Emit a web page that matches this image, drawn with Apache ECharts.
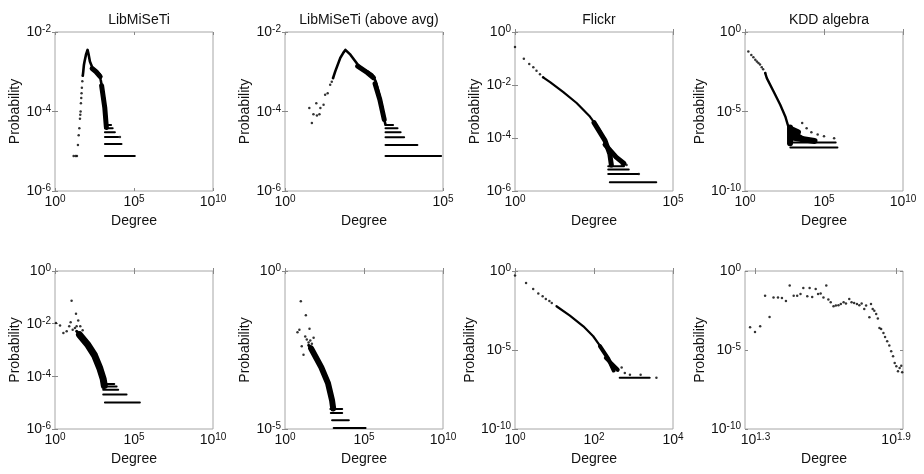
<!DOCTYPE html>
<html><head><meta charset="utf-8">
<script src="https://cdn.jsdelivr.net/npm/echarts@6/dist/echarts.min.js"></script>
<style>html,body{margin:0;padding:0;background:#fff}#c{width:924px;height:474px}</style>
</head><body><div id="c"></div>
<script>
// All data values are log10 exponents: [log10(Degree), log10(Probability)]
const titles = ['LibMiSeTi', 'LibMiSeTi (above avg)', 'Flickr', 'KDD algebra', '', '', '', ''];
const xRanges = [[0,10],[0,5],[0,5],[0,10],[0,10],[0,10],[0,4],[1.2553,1.9294]];
const xTicks  = [[0,5,10],[0,5],[0,5],[0,5,10],[0,5,10],[0,5,10],[0,2,4],[1.3,1.9]];
const yRanges = [[-6,-2],[-6,-2],[-6,0],[-10,0],[-6,0],[-5,0],[-10,0],[-10,0]];
const yTicks  = [[-6,-4,-2],[-6,-4,-2],[-6,-4,-2,0],[-10,-5,0],[-6,-4,-2,0],[-5,0],[-10,-5,0],[-10,-5,0]];

// 1: LibMiSeTi
const libPts = [[1.18,-5.12],[1.30,-5.12],[1.39,-5.12],[1.45,-4.84],[1.50,-4.60],[1.54,-4.42],[1.58,-4.18],[1.60,-4.08],[1.62,-4.00],[1.64,-3.79],[1.66,-3.66],[1.68,-3.54],[1.70,-3.40],[1.73,-3.24],[1.76,-3.10],[4.11,-4.64]];
const libCurve = [[1.76,-3.10],[1.79,-2.99],[1.83,-2.83],[1.87,-2.74],[1.96,-2.57],[2.06,-2.45],[2.13,-2.57],[2.21,-2.74],[2.38,-2.91],[2.63,-2.99],[2.84,-3.07],[2.89,-3.20],[2.99,-3.41],[3.10,-3.66],[3.18,-3.96],[3.26,-4.25],[3.28,-4.40]];
const libBlob = [[[2.35,-2.92],[2.60,-3.00],[2.86,-3.12]],[[2.95,-3.35],[3.15,-3.90],[3.25,-4.40]]];
const libBands = [[-5.12,3.16,5.05],[-4.82,3.16,4.21],[-4.64,3.16,4.00],[-4.52,3.16,3.79],[-4.42,3.16,3.65],[-4.34,3.18,3.55]];

// 2: LibMiSeTi (above avg)
const libAvgPts = [[0.77,-3.91],[0.85,-4.29],[0.90,-4.07],[0.99,-3.79],[1.01,-4.10],[1.09,-4.07],[1.12,-3.91],[1.22,-3.83],[1.27,-3.58],[1.35,-3.54],[1.43,-3.33],[1.48,-3.25],[1.52,-3.16]];
const libAvgCurve = [[1.52,-3.16],[1.59,-2.99],[1.67,-2.82],[1.75,-2.65],[1.84,-2.53],[1.91,-2.45],[2.07,-2.57],[2.23,-2.74],[2.39,-2.91],[2.60,-2.99],[2.76,-3.07],[2.87,-3.24],[2.97,-3.54],[3.08,-3.91],[3.13,-4.17],[3.18,-4.33]];
const libAvgBlob = [[[2.30,-2.86],[2.60,-3.02],[2.80,-3.15]],[[2.85,-3.30],[3.00,-3.70],[3.14,-4.20]]];
const libAvgBands = [[-5.12,3.18,4.94],[-4.84,3.18,4.19],[-4.65,3.18,3.77],[-4.52,3.18,3.66],[-4.42,3.18,3.56],[-4.34,3.18,3.42]];

// 3: Flickr
const flickrPts = [[0,-0.57],[0.28,-1.01],[0.45,-1.21],[0.58,-1.33],[0.68,-1.46],[0.79,-1.59],[0.89,-1.71],[3.20,-4.68],[3.33,-4.85],[3.42,-4.93],[3.53,-5.02],[3.10,-4.55],[3.38,-5.02],[3.92,-5.36]];
const flickrCurve = [[0.89,-1.71],[1.11,-1.89],[1.53,-2.27],[1.95,-2.68],[2.37,-3.19],[2.68,-3.69],[2.90,-4.20]];
const flickrBlob = [[[2.50,-3.42],[2.85,-4.10],[3.00,-4.60],[3.05,-5.02]],[[2.85,-4.25],[3.20,-4.72],[3.45,-4.96]]];
const flickrBands = [[-5.67,3.00,4.47],[-5.36,2.95,3.89],[-5.19,2.95,3.60],[-5.07,2.95,3.45]];

// 4: KDD algebra
const kddPts = [[0.21,-1.22],[0.40,-1.45],[0.53,-1.59],[0.65,-1.75],[0.75,-1.85],[0.85,-1.95],[0.95,-2.05],[1.06,-2.22],[1.15,-2.35],[1.28,-2.58],[3.62,-5.73],[3.90,-6.05],[4.20,-6.30],[4.60,-6.45],[5.00,-6.55],[5.64,-6.68]];
const kddCurve = [[1.28,-2.58],[1.38,-2.90],[1.81,-3.74],[2.23,-4.58],[2.55,-5.31],[2.77,-6.05],[2.87,-6.47]];
const kddBlob = [[[2.85,-6.00],[2.85,-7.00]],[[2.90,-6.30],[3.60,-6.72]],[[2.90,-6.62],[4.40,-6.85]],[[2.90,-6.10],[3.35,-6.30]]];
const kddBands = [[-7.27,2.87,5.85],[-6.95,2.87,5.74]];

// 5: LibMiSeTi (row 2)
const lib2Pts = [[1.05,-1.13],[1.33,-1.62],[1.47,-1.88],[0.06,-1.97],[0.32,-2.07],[0.53,-2.35],[0.74,-2.29],[0.90,-2.10],[0.99,-1.95],[1.12,-2.23],[1.26,-2.16],[1.37,-2.10],[1.60,-2.10],[1.75,-2.25]];
const lib2Curve = [[1.37,-2.29],[2.00,-2.67],[2.42,-3.11],[2.74,-3.62],[2.95,-4.00],[3.05,-4.19]];
const lib2Blob = [[[1.55,-2.42],[2.05,-2.78],[2.50,-3.20],[2.84,-3.70],[3.05,-4.10],[3.12,-4.35]]];
const lib2Bands = [[-4.99,3.16,5.37],[-4.69,3.05,4.53],[-4.51,3.05,4.00],[-4.39,3.05,3.90],[-4.29,3.05,3.75]];

// 6: LibMiSeTi (above avg, row 2)
const lib2AvgPts = [[1.00,-0.96],[1.32,-1.40],[1.55,-1.83],[0.79,-1.94],[0.91,-1.86],[1.28,-2.07],[1.38,-2.17],[1.06,-2.38],[1.17,-2.65],[1.49,-2.26],[1.81,-2.11],[1.70,-2.30],[1.60,-2.20]];
const lib2AvgCurve = [[1.50,-2.35],[1.66,-2.42],[2.30,-3.02],[2.72,-3.53],[2.98,-4.06],[3.08,-4.28]];
const lib2AvgBlob = [[[1.65,-2.45],[2.30,-3.05],[2.72,-3.55],[2.98,-4.10],[3.05,-4.35]]];
const lib2AvgBands = [[-4.97,3.08,5.10],[-4.72,2.98,4.04],[-4.49,2.90,3.62],[-4.37,2.87,3.62]];

// 7: Flickr (row 2)
const flickr2Pts = [[0,-0.29],[0.28,-0.76],[0.46,-1.14],[0.59,-1.43],[0.70,-1.60],[0.78,-1.77],[0.87,-1.90],[0.93,-2.03],[2.78,-6.46],[2.91,-6.56],[3.18,-6.56],[2.60,-6.30],[2.70,-6.10],[3.58,-6.75]];
const flickr2Curve = [[1.05,-2.23],[1.39,-2.82],[1.73,-3.50],[1.98,-4.13],[2.19,-4.87],[2.36,-5.61],[2.48,-6.24]];
const flickr2Blob = [[[2.15,-4.75],[2.36,-5.55],[2.50,-6.30]],[[2.30,-5.50],[2.60,-6.25]]];
const flickr2Bands = [[-6.75,2.65,3.41]];

// 8: KDD algebra (row 2)
const kdd2Pts = [[1.277,-3.56],[1.298,-3.86],[1.320,-3.50],[1.341,-1.56],[1.360,-2.91],[1.377,-1.67],[1.396,-1.67],[1.413,-1.71],[1.430,-1.90],[1.446,-0.91],[1.463,-1.56],[1.478,-1.56],[1.492,-1.46],[1.504,-1.08],[1.521,-1.60],[1.531,-1.08],[1.542,-1.65],[1.557,-1.14],[1.567,-1.46],[1.578,-1.43],[1.590,-1.67],[1.602,-0.91],[1.611,-1.81],[1.621,-1.98],[1.633,-2.23],[1.643,-2.19],[1.654,-2.17],[1.664,-2.09],[1.676,-1.98],[1.686,-2.06],[1.700,-1.77],[1.710,-1.98],[1.721,-2.03],[1.733,-2.09],[1.743,-2.17],[1.753,-2.06],[1.764,-2.41],[1.772,-2.19],[1.786,-2.93],[1.793,-2.09],[1.800,-2.41],[1.807,-2.51],[1.815,-2.72],[1.822,-3.01],[1.829,-3.61],[1.836,-3.67],[1.846,-3.92],[1.853,-4.18],[1.862,-4.45],[1.871,-4.72],[1.879,-5.08],[1.887,-5.40],[1.894,-5.82],[1.901,-6.03],[1.908,-6.35],[1.915,-6.14],[1.922,-5.99],[1.926,-6.41]];

const plotData = [
  {pts: libPts, curve: libCurve, blob: libBlob, bands: libBands},
  {pts: libAvgPts, curve: libAvgCurve, blob: libAvgBlob, bands: libAvgBands},
  {pts: flickrPts, curve: flickrCurve, blob: flickrBlob, bands: flickrBands},
  {pts: kddPts, curve: kddCurve, blob: kddBlob, bands: kddBands},
  {pts: lib2Pts, curve: lib2Curve, blob: lib2Blob, bands: lib2Bands},
  {pts: lib2AvgPts, curve: lib2AvgCurve, blob: lib2AvgBlob, bands: lib2AvgBands},
  {pts: flickr2Pts, curve: flickr2Curve, blob: flickr2Blob, bands: flickr2Bands},
  {pts: kdd2Pts, curve: [], blob: [], bands: []}
];
const curveWidths = [2.6, 2.6, 2.2, 2.4, 3, 3, 2.2, 0];
const blobWidths = [5, 5, 5, 6, 7, 6, 4, 0];

const FONT = '"Liberation Sans", Arial, sans-serif';
const TXT = '#111';
const BOX = '#a6a6a6';
const rich = {
  b: {fontSize: 14, fontFamily: FONT, color: TXT, verticalAlign: 'bottom', lineHeight: 15},
  s: {fontSize: 10, fontFamily: FONT, color: TXT, verticalAlign: 'top', lineHeight: 10, padding: [0,0,9,0]}
};
function expLabel(v) {
  const r = Math.round(v * 10) / 10;
  return '{b|10}{s|' + (Number.isInteger(r) ? String(r) : r.toFixed(1)) + '}';
}

const gridLeft = [55, 285, 515, 745];
const grids = [], xAxes = [], yAxes = [], series = [], titleOpts = [];
for (let i = 0; i < 8; i++) {
  const col = i % 4, row = Math.floor(i / 4);
  const top = row ? 271 : 32, h = row ? 158 : 159;
  grids.push({left: gridLeft[col], top: top, width: 158, height: h, show: true, borderColor: BOX, borderWidth: 1, backgroundColor: 'transparent'});
  if (titles[i]) titleOpts.push({text: titles[i], left: gridLeft[col] + 79, top: 8, textAlign: 'center',
    textStyle: {fontSize: 14, fontWeight: 'normal', fontFamily: FONT, color: TXT}});
  const tick = (vals) => ({show: true, inside: true, length: 3, customValues: vals, lineStyle: {color: '#888', width: 1}});
  const base = {gridIndex: i, type: 'value', axisLine: {show: false}, splitLine: {show: false}};
  xAxes.push(Object.assign({}, base, {position: 'bottom', min: xRanges[i][0], max: xRanges[i][1],
    axisTick: tick(xTicks[i]),
    axisLabel: {customValues: xTicks[i], formatter: expLabel, rich: rich, margin: 3},
    name: 'Degree', nameLocation: 'middle', nameGap: 15,
    nameTextStyle: {fontSize: 14, fontFamily: FONT, color: TXT}}));
  xAxes.push(Object.assign({}, base, {position: 'top', min: xRanges[i][0], max: xRanges[i][1],
    axisTick: tick(xTicks[i]), axisLabel: {show: false}}));
  yAxes.push(Object.assign({}, base, {position: 'left', min: yRanges[i][0], max: yRanges[i][1],
    axisTick: tick(yTicks[i]),
    axisLabel: {customValues: yTicks[i], formatter: expLabel, rich: rich, margin: 4},
    name: 'Probability', nameLocation: 'middle', nameGap: 33,
    nameTextStyle: {fontSize: 14, fontFamily: FONT, color: TXT}}));
  yAxes.push(Object.assign({}, base, {position: 'right', min: yRanges[i][0], max: yRanges[i][1],
    axisTick: tick(yTicks[i]), axisLabel: {show: false}}));

  const ax = {xAxisIndex: 2 * i, yAxisIndex: 2 * i};
  const d = plotData[i];
  const lineS = (data, w) => Object.assign({type: 'line', data: data, symbol: 'none', silent: true,
    lineStyle: {color: '#000', width: w, cap: 'round', join: 'round'}}, ax);
  if (d.curve.length) series.push(lineS(d.curve, curveWidths[i]));
  d.blob.forEach(b => series.push(lineS(b, blobWidths[i])));
  d.bands.forEach(b => series.push(lineS([[b[1], b[0]], [b[2], b[0]]], 2)));
  series.push(Object.assign({type: 'scatter', data: d.pts, symbol: 'circle', symbolSize: 2.5, silent: true,
    itemStyle: {color: '#000'}}, ax));
}

const chart = echarts.init(document.getElementById('c'), null, {renderer: 'canvas'});
chart.setOption({animation: false, backgroundColor: '#fff', title: titleOpts, grid: grids, xAxis: xAxes, yAxis: yAxes, series: series});
</script></body></html>
